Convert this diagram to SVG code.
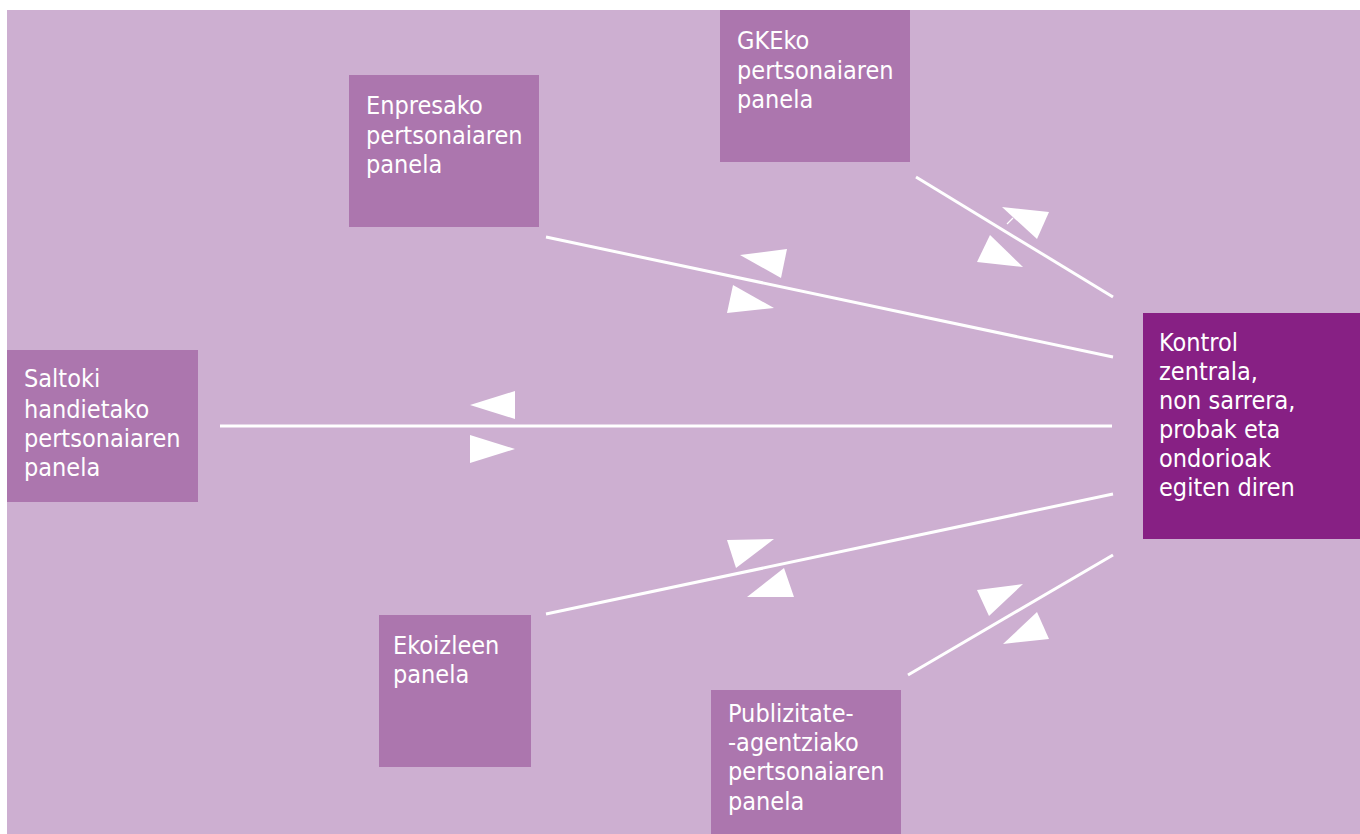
<svg xmlns="http://www.w3.org/2000/svg" width="1360" height="834" viewBox="0 0 1360 834">
<style>
.bg{fill:#CDAFD1}
.node{fill:#AC76AE}
.central{fill:#872084}
.lbl{font-family:"DejaVu Sans Condensed","DejaVu Sans",sans-serif;font-stretch:condensed;font-size:25px;fill:#FFFFFF}
.conn{stroke:#FFFFFF;stroke-width:3;fill:none}
.head{fill:#FFFFFF}
</style>
<rect x="0" y="0" width="1360" height="834" fill="#FFFFFF"/>
<rect class="bg" x="7" y="10" width="1353" height="824"/>
<g id="connectors">
<line class="conn" x1="916" y1="177" x2="1113" y2="297"/>
<line class="conn" x1="546" y1="237" x2="1113" y2="357"/>
<line class="conn" x1="220" y1="426" x2="1112" y2="426"/>
<line class="conn" x1="546" y1="614" x2="1113" y2="494"/>
<line class="conn" x1="908" y1="675" x2="1113" y2="555"/>
<polygon class="head" points="1002,207 1049,212 1037,239"/>
<line stroke="#FFFFFF" stroke-width="1.2" x1="1007" y1="224" x2="1013" y2="218"/>
<polygon class="head" points="990,235 977,262 1023,267"/>
<polygon class="head" points="740,255 787,249 781,278"/>
<polygon class="head" points="727,313 733,285 774,308"/>
<polygon class="head" points="470,405 515,391 515,419"/>
<polygon class="head" points="515,449 470,435 470,463"/>
<polygon class="head" points="727,540 774,539 736,568"/>
<polygon class="head" points="784,568 747,597 794,597"/>
<polygon class="head" points="977,590 1023,584 989,616"/>
<polygon class="head" points="1037,612 1003,644 1049,639"/>
</g>
<g id="gkeko">
<rect class="node" x="720" y="10" width="190" height="152"/>
<text class="lbl" x="737" y="49">GKEko</text>
<text class="lbl" x="737" y="78.5">pertsonaiaren</text>
<text class="lbl" x="737" y="108">panela</text>
</g>
<g id="enpresako">
<rect class="node" x="349" y="75" width="190" height="152"/>
<text class="lbl" x="366" y="114">Enpresako</text>
<text class="lbl" x="366" y="143.5">pertsonaiaren</text>
<text class="lbl" x="366" y="173">panela</text>
</g>
<g id="saltoki">
<rect class="node" x="7" y="350" width="191" height="152"/>
<text class="lbl" x="24" y="387">Saltoki</text>
<text class="lbl" x="24" y="418">handietako</text>
<text class="lbl" x="24" y="447">pertsonaiaren</text>
<text class="lbl" x="24" y="476">panela</text>
</g>
<g id="ekoizleen">
<rect class="node" x="379" y="615" width="152" height="152"/>
<text class="lbl" x="393" y="654">Ekoizleen</text>
<text class="lbl" x="393" y="683">panela</text>
</g>
<g id="publizitate">
<rect class="node" x="711" y="690" width="190" height="144"/>
<text class="lbl" x="728" y="722">Publizitate-</text>
<text class="lbl" x="728" y="751">-agentziako</text>
<text class="lbl" x="728" y="780">pertsonaiaren</text>
<text class="lbl" x="728" y="810">panela</text>
</g>
<g id="kontrol">
<rect class="central" x="1143" y="313" width="217" height="226"/>
<text class="lbl" x="1159" y="351">Kontrol</text>
<text class="lbl" x="1159" y="380">zentrala,</text>
<text class="lbl" x="1159" y="409">non sarrera,</text>
<text class="lbl" x="1159" y="438">probak eta</text>
<text class="lbl" x="1159" y="467">ondorioak</text>
<text class="lbl" x="1159" y="496">egiten diren</text>
</g>
</svg>
